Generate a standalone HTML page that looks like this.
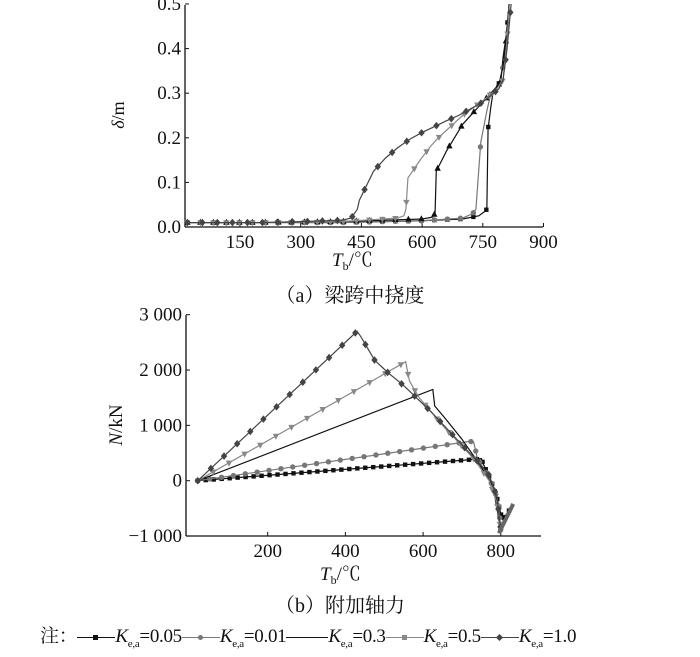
<!DOCTYPE html>
<html><head><meta charset="utf-8"><style>
body{margin:0;background:#fff;width:700px;height:652px;overflow:hidden}
svg text{font-family:"Liberation Serif","Noto Serif CJK SC",serif;fill:#111}
</style></head><body>
<svg id="s" width="700" height="652" xmlns="http://www.w3.org/2000/svg"></svg>
<script>
// ---- data chart (a): deflection ----
const aTicksX=[150,300,450,600,750,900];
const aTicksY=[0.0,0.1,0.2,0.3,0.4,0.5];
const aK005T=[20,100,200,300,400,500,600,700,740,755,760,763,770,775,795,800,808,815];
const aK005D=[0.01,0.01,0.01,0.01,0.01,0.012,0.014,0.018,0.025,0.035,0.04,0.22,0.27,0.3,0.33,0.38,0.43,0.5];
const aK001T=[20,100,200,300,400,500,600,700,725,733,745,760,770,790,800,810,815];
const aK001D=[0.01,0.01,0.01,0.01,0.01,0.012,0.014,0.02,0.03,0.04,0.19,0.26,0.3,0.32,0.36,0.43,0.49];
const aK03T=[20,200,400,600,625,632,635,660,680,700,730,750,770,790,800,810,815];
const aK03D=[0.01,0.01,0.012,0.018,0.022,0.03,0.125,0.17,0.2,0.23,0.26,0.28,0.3,0.32,0.36,0.44,0.49];
const aK05T=[20,200,400,540,555,560,565,595,620,640,670,700,730,760,785,800,810,815];
const aK05D=[0.01,0.01,0.012,0.02,0.025,0.04,0.11,0.15,0.18,0.2,0.225,0.25,0.27,0.29,0.31,0.33,0.42,0.49];
const aK1T=[20,100,200,300,400,425,440,445,480,510,540,570,600,630,660,690,720,750,770,790,800,810,820];
const aK1D=[0.01,0.01,0.01,0.012,0.015,0.02,0.04,0.06,0.125,0.155,0.178,0.197,0.212,0.225,0.238,0.25,0.265,0.28,0.295,0.31,0.33,0.4,0.5];
// ---- data chart (b): axial force ----
const bTicksX=[200,400,600,800];
const bTicksY=[-1000,0,1000,2000,3000];
const bTickLbl=["\u22121 000","0","1 000","2 000","3 000"];
const bK005T=[20,740,750,755,775,790,800,805,830];
const bK005N=[0,390,400,300,0,-300,-600,-700,-450];
const bK001T=[20,720,730,740,770,790,795,800];
const bK001N=[0,710,700,400,50,-300,-500,-900];
const bK03T=[20,625,630,660,700,740,780,800];
const bK03N=[0,1650,1350,1100,750,350,-100,-900];
const bK05T=[20,555,565,590,620,650,690,730,770,790,800];
const bK05N=[0,2150,1800,1500,1250,1000,700,400,0,-400,-900];
const bK1T=[20,430,440,475,510,550,590,620,660,700,740,770,790,800];
const bK1N=[0,2700,2600,2180,1950,1720,1450,1250,950,650,350,100,-300,-900];

const S=document.getElementById('s');const NS='http://www.w3.org/2000/svg';
function el(t,a,p){const e=document.createElementNS(NS,t);for(const k in a)e.setAttribute(k,a[k]);(p||S).appendChild(e);return e;}
const ax=v=>179.3+v/150*60.7, ay=v=>227-v*446;
const bx=v=>190+v/200*77.7, by=v=>480.7-v*0.05533;

function mark(g,x,y,kind,col){
  let m;
  if(kind==='sq')m=el('rect',{x:x-2.2,y:y-2.2,width:4.4,height:4.4,fill:col},g);
  else if(kind==='ci')m=el('circle',{cx:x,cy:y,r:2.7,fill:col},g);
  else if(kind==='up')m=el('polygon',{points:`${x},${y-3.8} ${x-3.2},${y+2.2} ${x+3.2},${y+2.2}`,fill:col},g);
  else if(kind==='dn')m=el('polygon',{points:`${x},${y+3.8} ${x-3.2},${y-2.2} ${x+3.2},${y-2.2}`,fill:col},g);
  else if(kind==='di')m=el('polygon',{points:`${x},${y-3.8} ${x+3.2},${y} ${x},${y+3.8} ${x-3.2},${y}`,fill:col},g);
  if(m){}
}
function series(name,xs,ys,X,Y,kind,col,sp,vw){
  const g=el('g',{});
  
  
  const P=xs.map((v,i)=>[X(v),Y(ys[i])]);
  el('polyline',{points:P.map(p=>p.join(',')).join(' '),fill:'none',stroke:col,'stroke-width':1.2},g);
  if(!kind)return;
  vw=vw||1;
  let acc=0;mark(g,P[0][0],P[0][1],kind,col);
  for(let i=1;i<P.length;i++){
    const dx=P[i][0]-P[i-1][0],dy=P[i][1]-P[i-1][1],L=Math.hypot(dx,dy*vw);
    if(L===0)continue;
    let d=sp-acc;
    while(d<=L){mark(g,P[i-1][0]+dx*d/L,P[i-1][1]+dy*d/L,kind,col);d+=sp;}
    acc=L-(d-sp);
  }
}
function axesFrame(name,x0,x1,y0,y1){
  const g=el('g',{});
  el('line',{x1:x0,y1:y0,x2:x0,y2:y1,stroke:'#111','stroke-width':1.3},g);
  el('line',{x1:x0,y1:y1,x2:x1,y2:y1,stroke:'#111','stroke-width':1.3},g);
  return g;
}
// chart a
let g=axesFrame('chart-a-axes',185,543,5,227);
aTicksX.forEach(v=>{el('line',{x1:ax(v),y1:227,x2:ax(v),y2:223,stroke:'#111'},g);const t=el('text',{x:ax(v),y:248,'font-size':19,'text-anchor':'middle'},g);t.textContent=v;});
aTicksY.forEach(v=>{el('line',{x1:185,y1:ay(v),x2:189,y2:ay(v),stroke:'#111'},g);const t=el('text',{x:181,y:ay(v)+6,'font-size':19,'text-anchor':'end'},g);t.textContent=v.toFixed(1);});
let t=el('text',{x:124,y:115,'font-size':18,'text-anchor':'middle',transform:'rotate(-90 124 115)'});t.innerHTML='<tspan font-style="italic">δ</tspan>/m';
t=el('text',{x:332,y:266,'font-size':19});t.innerHTML='<tspan font-style="italic">T</tspan><tspan font-size="12" dy="4">b</tspan><tspan dy="-4">/℃</tspan>';
series('series-a-k005',aK005T,aK005D,ax,ay,'sq','#111',13,0.15);
series('series-a-k001',aK001T,aK001D,ax,ay,'ci','#777',13,0.15);
series('series-a-k03',aK03T,aK03D,ax,ay,'up','#111',13,0.25);
series('series-a-k05',aK05T,aK05D,ax,ay,'dn','#888',13,0.25);
series('series-a-k1',aK1T,aK1D,ax,ay,'di','#444',15,0.3);
t=el('text',{x:350,y:302,'font-size':20,'text-anchor':'middle'});t.textContent='（a）梁跨中挠度';
// chart b
g=axesFrame('chart-b-axes',186,541,315,536);
bTicksX.forEach(v=>{el('line',{x1:bx(v),y1:536,x2:bx(v),y2:532,stroke:'#111'},g);const t=el('text',{x:bx(v),y:557,'font-size':19,'text-anchor':'middle'},g);t.textContent=v;});
bTicksY.forEach((v,i)=>{el('line',{x1:186,y1:by(v),x2:190,y2:by(v),stroke:'#111'},g);const t=el('text',{x:182,y:by(v)+6,'font-size':19,'text-anchor':'end'},g);t.textContent=bTickLbl[i];});
t=el('text',{x:122,y:425,'font-size':19,'text-anchor':'middle',transform:'rotate(-90 122 425)'});t.innerHTML='<tspan font-style="italic">N</tspan>/kN';
t=el('text',{x:320,y:580,'font-size':19});t.innerHTML='<tspan font-style="italic">T</tspan><tspan font-size="12" dy="4">b</tspan><tspan dy="-4">/℃</tspan>';
series('series-b-k005',bK005T,bK005N,bx,by,'sq','#111',8);
series('series-b-k001',bK001T,bK001N,bx,by,'ci','#777',12);
series('series-b-k03',bK03T,bK03N,bx,by,null,'#111',12);
series('series-b-k05',bK05T,bK05N,bx,by,'dn','#888',18);
series('series-b-k1',bK1T,bK1N,bx,by,'di','#444',18);
const thick=el('line',{x1:bx(795),y1:by(-950),x2:bx(832),y2:by(-420),stroke:'#666','stroke-width':4});

t=el('text',{x:340,y:612,'font-size':20,'text-anchor':'middle'});t.textContent='（b）附加轴力';
</script>
<div style="position:absolute;left:40px;top:621px;font:19px 'Liberation Serif','Noto Serif CJK SC',serif;white-space:nowrap;color:#111;letter-spacing:-0.3px">注：<span style="display:inline-block;width:38px;border-top:1.3px solid #111;vertical-align:middle;position:relative"><i style="position:absolute;left:16px;top:-3px;width:5px;height:5px;background:#111"></i></span><i>K</i><sub style="font-size:11px">e,a</sub>=0.05<span style="display:inline-block;width:38px;border-top:1.3px solid #777;vertical-align:middle;position:relative"><i style="position:absolute;left:16px;top:-3px;width:5px;height:5px;border-radius:50%;background:#777"></i></span><i>K</i><sub style="font-size:11px">e,a</sub>=0.01<span style="display:inline-block;width:42px;border-top:1.3px solid #111;vertical-align:middle"></span><i>K</i><sub style="font-size:11px">e,a</sub>=0.3<span style="display:inline-block;width:38px;border-top:1.3px solid #888;vertical-align:middle;position:relative"><i style="position:absolute;left:16px;top:-3px;width:5px;height:5px;background:#888"></i></span><i>K</i><sub style="font-size:11px">e,a</sub>=0.5<span style="display:inline-block;width:38px;border-top:1.3px solid #444;vertical-align:middle;position:relative"><i style="position:absolute;left:16px;top:-3px;width:5px;height:5px;background:#444;transform:rotate(45deg)"></i></span><i>K</i><sub style="font-size:11px">e,a</sub>=1.0</div>
</body></html>
